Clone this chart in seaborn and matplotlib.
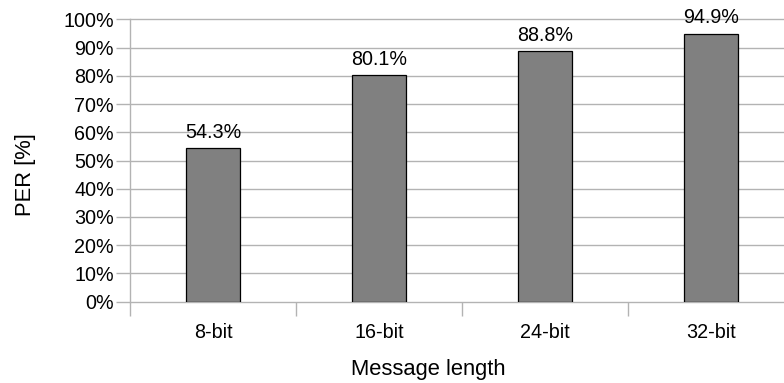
import matplotlib
matplotlib.use("Agg")
import matplotlib.pyplot as plt
import seaborn as sns
import pandas as pd
from matplotlib.ticker import FixedLocator, PercentFormatter

categories = ["8-bit", "16-bit", "24-bit", "32-bit"]
per_values = [54.3, 80.1, 88.8, 94.9]

sns.set_theme(style="white")
plt.rcParams["font.family"] = ["Liberation Sans", "DejaVu Sans"]

df = pd.DataFrame({"length": categories, "per": per_values})

W, H = 784, 383
fig = plt.figure(figsize=(W / 100, H / 100), dpi=100)
ax = fig.add_axes([130 / W, 1 - 301.7 / H, (W - 130) / W, (301.7 - 19.3) / H])

sns.barplot(data=df, x="length", y="per", ax=ax, color="#808080",
            saturation=1, width=0.33, edgecolor="black", linewidth=0.9, zorder=3)

ax.set_ylim(0, 100)
ax.set_xlim(-0.5, 3.5 - 10 / 166)
ax.set_yticks(range(0, 101, 10))
ax.yaxis.set_major_formatter(PercentFormatter(decimals=0))
ax.grid(axis="y", color="#b3b3b3", linewidth=1, zorder=0, clip_on=False)

# category boundary ticks on the x axis, labels centred under bars
ax.set_xticks([])
ax.xaxis.set_minor_locator(FixedLocator([-0.5, 0.5, 1.5, 2.5, 3.5]))
ax.tick_params(axis="x", which="minor", length=10, width=1, color="#b3b3b3", bottom=True)
for i, c in enumerate(categories):
    ax.text(i, -7.5, c, ha="center", va="top", fontsize=14.2, color="black")
ax.tick_params(axis="y", which="major", length=10, width=1, color="#b3b3b3",
               left=True, labelsize=14.2, labelcolor="black", pad=1.5)

for s in ["top", "right", "bottom"]:
    ax.spines[s].set_visible(False)
ax.spines["left"].set_color("#b3b3b3")
ax.spines["left"].set_linewidth(1)

for i, v in enumerate(per_values):
    ax.text(i, v + 2.2, f"{v:.1f}%", ha="center", va="bottom", fontsize=14.2, color="black")

ax.set_xlabel("")
ax.set_ylabel("")
fig.text(25 / W, 1 - 175 / H, "PER [%]", rotation=90, ha="center", va="center",
         fontsize=15.8, color="black")
fig.text(428 / W, 1 - 369 / H, "Message length", ha="center", va="center",
         fontsize=15.8, color="black")

fig.savefig("out.png", dpi=100)
